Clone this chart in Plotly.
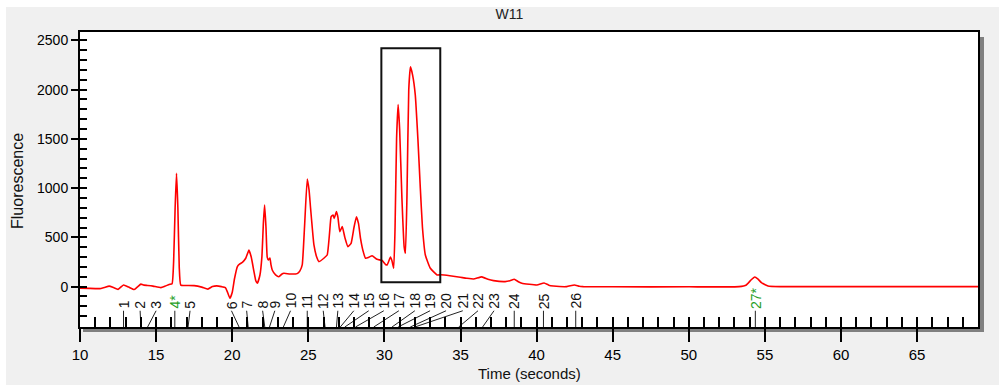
import plotly.graph_objects as go

# ---------------- data ----------------
time_s = [10.0, 10.6, 11.3, 11.6, 11.92, 12.2, 12.5, 12.86, 13.2, 13.56, 13.8, 14.0, 14.2, 14.44,
          14.8, 15.31, 15.6, 15.86, 16.05, 16.15, 16.25, 16.34, 16.43, 16.52, 16.62, 17.0, 17.5,
          18.0, 18.4, 18.7, 18.98, 19.3, 19.55, 19.7, 19.85, 20.0, 20.15, 20.34, 20.5, 20.67,
          20.89, 21.1, 21.25, 21.43, 21.55, 21.65, 21.82, 21.95, 22.05, 22.13, 22.22, 22.3,
          22.38, 22.48, 22.55, 22.63, 22.85, 23.07, 23.25, 23.4, 23.8, 24.27, 24.45, 24.6,
          24.75, 24.93, 25.05, 25.15, 25.37, 25.55, 25.7, 26.02, 26.24, 26.4, 26.5, 26.63,
          26.7, 26.85, 26.95, 27.07, 27.23, 27.4, 27.6, 27.81, 28.0, 28.16, 28.3, 28.43, 28.6,
          28.76, 29.0, 29.19, 29.52, 29.85, 30.07, 30.18, 30.4, 30.5, 30.61, 30.7, 30.8, 30.9,
          31.0, 31.15, 31.3, 31.38, 31.48, 31.6, 31.71, 31.85, 32.03, 32.2, 32.36, 32.5, 32.69,
          33.02, 33.46, 33.7, 34.3, 34.98, 35.4, 35.86, 36.4, 36.8, 37.17, 37.93, 38.25, 38.53,
          38.8, 39.03, 40.02, 40.49, 40.8, 41.1, 41.98, 42.48, 42.8, 43.07, 45.0, 50.0, 53.3,
          53.78, 54.1, 54.33, 54.55, 54.77, 55.2, 56.0, 60.0, 65.0, 69.0]
fluor = [-15, -18, -20, -8, 5, -10, -28, 17, -5, -30, 0, 25, 15, 12,
         5, -10, 5, 22, 30, 250, 800, 1150, 800, 200, 15, 12, 10,
         -5, -25, 0, 8, 0, -10, -60, -118, -60, 80, 203, 230, 247,
         288, 370, 300, 152, 60, 34, 115, 300, 650, 828, 600, 300,
         270, 290, 220, 169, 120, 101, 125, 135, 128, 132, 160, 220,
         600, 1092, 980, 795, 423, 300, 254, 288, 321, 550, 710, 727,
         693, 761, 700, 558, 609, 500, 406, 440, 600, 710, 640, 490, 360,
         288, 300, 314, 277, 265, 225, 220, 300, 260, 186, 600, 1500, 1849,
         1600, 900, 400, 338, 900, 2000, 2231, 2150, 1944, 1500, 998, 600, 321,
         186, 119, 120, 110, 95, 85, 78, 99, 75, 61, 51, 60, 75,
         50, 34, 17, 37, 15, 7, 0, 17, 3, 0, -2, -2, 0,
         17, 70, 98, 75, 40, 7, 0, 0, 0, 0]

peak_names = ["1", "2", "3", "4*", "5", "6", "7", "8", "9", "10", "11", "12", "13", "14",
              "15", "16", "17", "18", "19", "20", "21", "22", "23", "24", "25", "26", "27*"]
peak_times = [12.86, 14.0, 14.44, 16.23, 17.1, 20.45, 21.05, 22.14, 22.45, 23.36, 24.93, 26.1,
              26.85, 27.1, 27.4, 28.1, 29.3, 30.5, 30.9, 31.7, 32.0, 34.88, 36.45, 38.53,
              40.45, 42.57, 54.37]
label_times = [12.86, 13.95, 15.0, 16.23, 17.23, 19.95, 20.95, 22.0, 22.8, 23.83, 24.93, 25.98,
               26.94, 27.99, 28.97, 29.96, 30.95, 32.0, 33.0, 34.05, 35.15, 36.15, 37.2, 38.53,
               40.45, 42.57, 54.37]
internal_std = [False, False, False, True, False, False, False, False, False, False, False, False,
                False, False, False, False, False, False, False, False, False, False, False, False,
                False, False, True]

highlight_t = [29.8, 33.67]
highlight_f = [45, 2420]

x_range = [10, 69]
y_range = [-410, 2585]
label_base = -245

# ---------------- styles ----------------
SANS = "Liberation Sans, Arial, sans-serif"
GREEN = "#1f9e1f"

fig = go.Figure()

fig.add_trace(go.Scatter(x=time_s, y=fluor, mode="lines",
                         line=dict(color="#ff0000", width=1.6, shape="spline", smoothing=0.4),
                         hoverinfo="skip", showlegend=False))

# leader lines from labels down to peak positions on the axis
lx, ly = [], []
for lt, pt in zip(label_times, peak_times):
    lx += [lt, pt, None]
    ly += [label_base, y_range[0], None]
fig.add_trace(go.Scatter(x=lx, y=ly, mode="lines", line=dict(color="#222222", width=1),
                         hoverinfo="skip", showlegend=False))

for name, lt, istd in zip(peak_names, label_times, internal_std):
    fig.add_annotation(x=lt, y=label_base, xref="x", yref="y", text=name, showarrow=False,
                       textangle=-90, xanchor="center", yanchor="bottom",
                       font=dict(family=SANS, size=14, color=GREEN if istd else "#111111"))

# highlight box
fig.add_shape(type="rect", xref="x", yref="y", x0=highlight_t[0], x1=highlight_t[1],
              y0=highlight_f[0], y1=highlight_f[1], line=dict(color="#111111", width=2))

# frame decorations: white strip at page top/left and grey drop shadow
PW, PH = 898.0, 295.0
fig.add_shape(type="rect", xref="paper", yref="paper", x0=-80 / PW, x1=1 + 21 / PW,
              y0=1 + 25 / PH, y1=1 + 32 / PH, fillcolor="white", line_width=0, layer="below")
fig.add_shape(type="rect", xref="paper", yref="paper", x0=-80 / PW, x1=-74 / PW,
              y0=-58 / PH, y1=1 + 32 / PH, fillcolor="white", line_width=0, layer="below")
fig.add_shape(type="rect", xref="paper", yref="paper", x0=1, x1=1 + 6 / PW,
              y0=-5 / PH, y1=1 - 5 / PH, fillcolor="#808080", line_width=0, layer="below")
fig.add_shape(type="rect", xref="paper", yref="paper", x0=3 / PW, x1=1 + 6 / PW,
              y0=-5 / PH, y1=0, fillcolor="#808080", line_width=0, layer="below")

# axis titles
fig.add_annotation(text="Fluorescence", xref="paper", yref="paper", x=-62 / PW, y=0.495,
                   textangle=-90, showarrow=False, xanchor="center", yanchor="middle",
                   font=dict(family=SANS, size=16, color="#111111"))
fig.add_annotation(text="Time (seconds)", xref="paper", yref="paper", x=0.501, y=-46 / PH,
                   showarrow=False, xanchor="center", yanchor="middle",
                   font=dict(family=SANS, size=15, color="#111111"))

fig.update_layout(
    width=999, height=385,
    margin=dict(l=80, r=21, t=32, b=58),
    paper_bgcolor="#f0f0f0", plot_bgcolor="white",
    title=dict(text="W11", x=0.51, xref="container", y=1 - 14 / 385, yref="container",
               yanchor="middle", xanchor="center",
               font=dict(family=SANS, size=14, color="#222222")),
    xaxis=dict(range=x_range, dtick=5, tick0=0, ticks="outside", ticklen=13, tickwidth=2,
               tickcolor="black", showline=True, linewidth=2, linecolor="black", mirror=True,
               showgrid=False, zeroline=False, automargin=False,
               tickfont=dict(family=SANS, size=15, color="black")),
    xaxis2=dict(overlaying="x", matches="x", anchor="y", side="bottom", dtick=1, tick0=0,
                ticks="inside", ticklen=10, tickwidth=2, tickcolor="black", automargin=False,
                showticklabels=False, showgrid=False, zeroline=False, showline=False),
    yaxis=dict(range=y_range, dtick=500, tick0=0, ticks="outside", ticklen=7, tickwidth=2,
               tickcolor="black", showline=True, linewidth=2, linecolor="black", mirror=True,
               showgrid=False, zeroline=False, automargin=False,
               tickfont=dict(family=SANS, size=14, color="black")),
    yaxis2=dict(overlaying="y", matches="y", anchor="x", side="left", dtick=100, tick0=0,
                ticks="inside", ticklen=7, tickwidth=2, tickcolor="black", automargin=False,
                showticklabels=False, showgrid=False, zeroline=False, showline=False),
)

# invisible trace so that the overlay axes are drawn
fig.add_trace(go.Scatter(x=x_range, y=[None, None], xaxis="x2", yaxis="y2", mode="lines",
                         hoverinfo="skip", showlegend=False))

fig.write_html("out.html")
